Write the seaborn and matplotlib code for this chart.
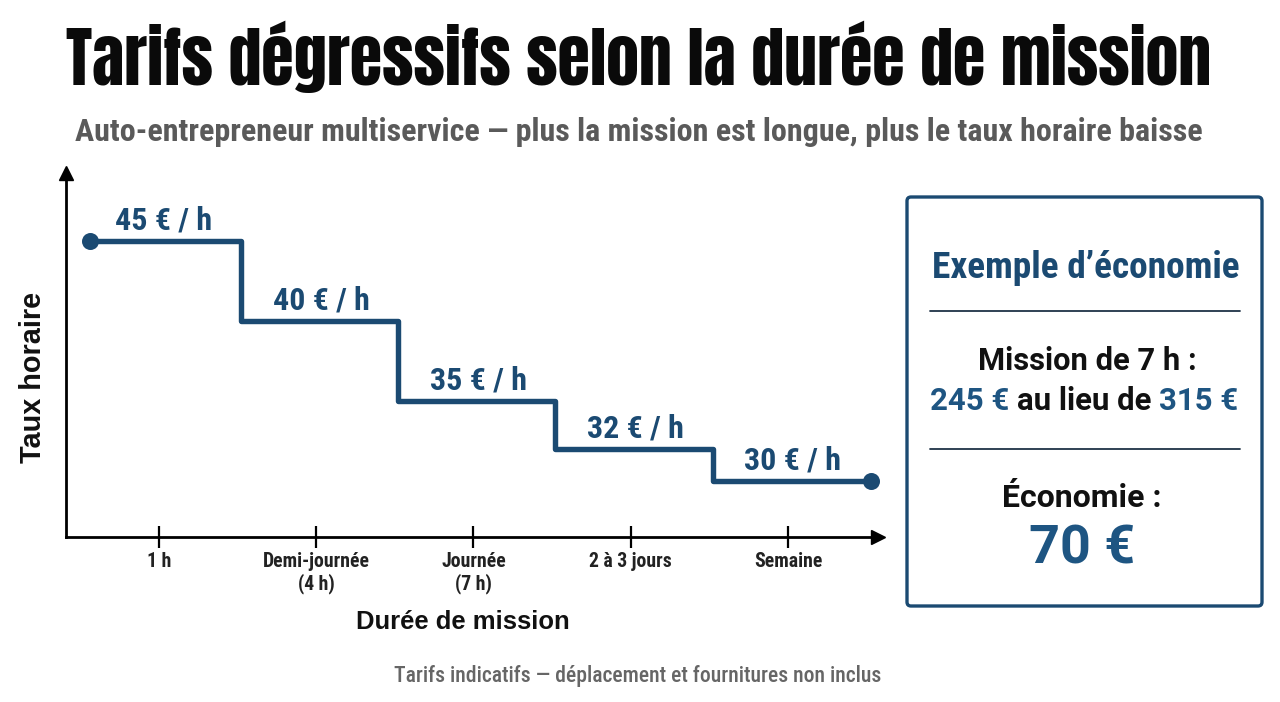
import matplotlib
matplotlib.use("Agg")
import numpy as np
import pandas as pd
import seaborn as sns
import matplotlib.pyplot as plt
from matplotlib.patches import FancyBboxPatch
from matplotlib.lines import Line2D
from matplotlib.transforms import IdentityTransform

# ---------------- data ----------------
categories = ["1 h", "Demi-journée\n(4 h)", "Journée\n(7 h)", "2 à 3 jours", "Semaine"]
rates = [45, 40, 35, 32, 30]
rate_labels = ["45 € / h", "40 € / h", "35 € / h", "32 € / h", "30 € / h"]
title = "Tarifs dégressifs selon la durée de mission"
subtitle = "Auto-entrepreneur multiservice — plus la mission est longue, plus le taux horaire baisse"
footer = "Tarifs indicatifs — déplacement et fournitures non inclus"
x_label = "Durée de mission"
y_label = "Taux horaire"
box_title = "Exemple d’économie"
box_line1 = "Mission de 7 h :"
box_price_new = "245 €"
box_mid = "au lieu de"
box_price_old = "315 €"
box_saving_label = "Économie :"
box_saving = "70 €"

# ---------------- style ----------------
sns.set_theme(style="white")
COND = ["Roboto Condensed", "Liberation Sans Narrow", "DejaVu Sans"]
ROBO = ["Roboto", "Liberation Sans", "DejaVu Sans"]
HEAVY = ["Anton", "Roboto Condensed", "DejaVu Sans"]
ARIAL = ["Liberation Sans", "Arimo", "DejaVu Sans"]
plt.rcParams["font.family"] = COND

NAVY = "#1b4a72"
BLUE = "#1e5582"
W, H = 1280, 702

fig = plt.figure(figsize=(12.8, 7.02), dpi=100)
fig.patch.set_facecolor("white")
renderer = fig.canvas.get_renderer()


def fx(px):
    return px / W


def fy(py):
    return 1 - py / H


def fit(t, target, vertical=False):
    for _ in range(3):
        bb = t.get_window_extent(renderer)
        cur = bb.height if vertical else bb.width
        t.set_fontsize(t.get_fontsize() * target / cur)
    return t


# ---------------- axes ----------------
ax_left, ax_right, ax_bottom, ax_top = 66, 878, 537, 173
ax = fig.add_axes([fx(ax_left), fy(ax_bottom), fx(ax_right - ax_left), (ax_bottom - ax_top) / H])
ax.set_facecolor("none")

n = len(rates)
xs = np.arange(n)
ax.set_xlim(-0.591, 4.572)
ax.set_ylim(26.5, 49.25)

edges = np.concatenate([[xs[0] - 0.44], xs[:-1] + 0.52, [xs[-1] + 0.53]])
step_df = pd.DataFrame({"x": edges, "y": rates + [rates[-1]]})
sns.lineplot(data=step_df, x="x", y="y", drawstyle="steps-post", color=NAVY,
             linewidth=3.9, ax=ax, sort=False, estimator=None)
ends_df = pd.DataFrame({"x": [edges[0], edges[-1]], "y": [rates[0], rates[-1]]})
sns.scatterplot(data=ends_df, x="x", y="y", color=NAVY, s=150, linewidth=0, ax=ax, zorder=5, clip_on=False)

for i, (v, lab) in enumerate(zip(rates, rate_labels)):
    t = ax.annotate(lab, (xs[i] + 0.03, v), xytext=(0, 11), textcoords="offset pixels",
                    ha="center", va="baseline", color=NAVY, fontweight="bold",
                    fontsize=22, family=COND)
    fit(t, 97)

# spines & arrows
for s in ["top", "right"]:
    ax.spines[s].set_visible(False)
for s in ["left", "bottom"]:
    ax.spines[s].set_color("black")
    ax.spines[s].set_linewidth(2.0)
ax.plot(1, 0, marker=">", color="black", markersize=10, transform=ax.transAxes, clip_on=False)
ax.plot(0, 1, marker="^", color="black", markersize=10, transform=ax.transAxes, clip_on=False)

ax.set_yticks([])
ax.set_xticks(xs)
ax.set_xticklabels(categories, fontweight="bold", color="#222222", family=COND, fontsize=13)
ax.tick_params(axis="x", bottom=True, direction="inout", length=16, width=1.6,
               color="black", pad=3)
ax.set_xlabel("")
ax.set_ylabel("")
for tl in ax.get_xticklabels():
    tl.set_linespacing(1.15)
probe = fig.text(0, 0, "Demi-journée", fontweight="bold", family=COND, fontsize=13)
fit(probe, 107)
tick_fs = probe.get_fontsize()
probe.remove()
for tl in ax.get_xticklabels():
    tl.set_fontsize(tick_fs)

# axis titles
t = fig.text(fx(463), fy(629), x_label, ha="center", va="baseline", fontweight="bold",
             color="#111111", family=ARIAL, fontsize=17)
fit(t, 214)
t = fig.text(fx(33), fy(377), y_label, ha="center", va="center", rotation=90,
             fontweight="bold", color="#111111", family=ARIAL, fontsize=19)
fit(t, 171, vertical=True)

# ---------------- titles ----------------
t = fig.text(fx(639), fy(85), title, ha="center", va="baseline", color="#0a0a0a",
             family=HEAVY, fontsize=50)
fit(t, 1142)
t = fig.text(fx(639), fy(141), subtitle, ha="center", va="baseline", color="#5a5a5a",
             fontweight="bold", family=COND, fontsize=20)
fit(t, 1128)
t = fig.text(fx(638), fy(682), footer, ha="center", va="baseline", color="#666666",
             fontweight="medium", family=COND, fontsize=12)
fit(t, 491)

# ---------------- side box ----------------
box = FancyBboxPatch((907, H - 606), 355, 409, boxstyle="round,pad=0,rounding_size=4",
                     transform=IdentityTransform(), facecolor="white", edgecolor=NAVY,
                     linewidth=2.4)
fig.add_artist(box)
for yy in (311, 449):
    fig.add_artist(Line2D([fx(930), fx(1240)], [fy(yy), fy(yy)], color="#1f3347",
                          linewidth=1.3, transform=fig.transFigure))

t = fig.text(fx(1086), fy(278), box_title, ha="center", va="baseline", color=NAVY,
             fontweight="bold", family=COND, fontsize=24)
fit(t, 308)
t = fig.text(fx(1087), fy(370), box_line1, ha="center", va="baseline", color="#111111",
             fontweight="bold", family=ROBO, fontsize=20)
fit(t, 219)

# multi-coloured line
pieces = [(box_price_new, BLUE), (box_mid, "#111111"), (box_price_old, BLUE)]
fs = 20.0
for _ in range(3):
    widths = []
    for txt, _c in pieces:
        tt = fig.text(0, 0, txt, fontweight="bold", family=ROBO, fontsize=fs)
        widths.append(tt.get_window_extent(renderer).width)
        tt.remove()
    a1 = fig.text(0, 0, "aa", fontweight="bold", family=ROBO, fontsize=fs)
    a2 = fig.text(0, 0, "a a", fontweight="bold", family=ROBO, fontsize=fs)
    sp = a2.get_window_extent(renderer).width - a1.get_window_extent(renderer).width
    a1.remove(); a2.remove()
    total = sum(widths) + 2 * sp
    fs *= 308 / total
x0 = 1084 - 308 / 2
for (txt, c), w in zip(pieces, widths):
    fig.text(fx(x0), fy(410), txt, ha="left", va="baseline", color=c,
             fontweight="bold", family=ROBO, fontsize=fs)
    x0 += w + sp

t = fig.text(fx(1082), fy(507), box_saving_label, ha="center", va="baseline", color="#111111",
             fontweight="bold", family=ROBO, fontsize=26)
fit(t, 160)
t = fig.text(fx(1082), fy(564), box_saving, ha="center", va="baseline", color=BLUE,
             fontweight="bold", family=ROBO, fontsize=40)
fit(t, 106)

fig.savefig("out.png", dpi=100, facecolor="white")
